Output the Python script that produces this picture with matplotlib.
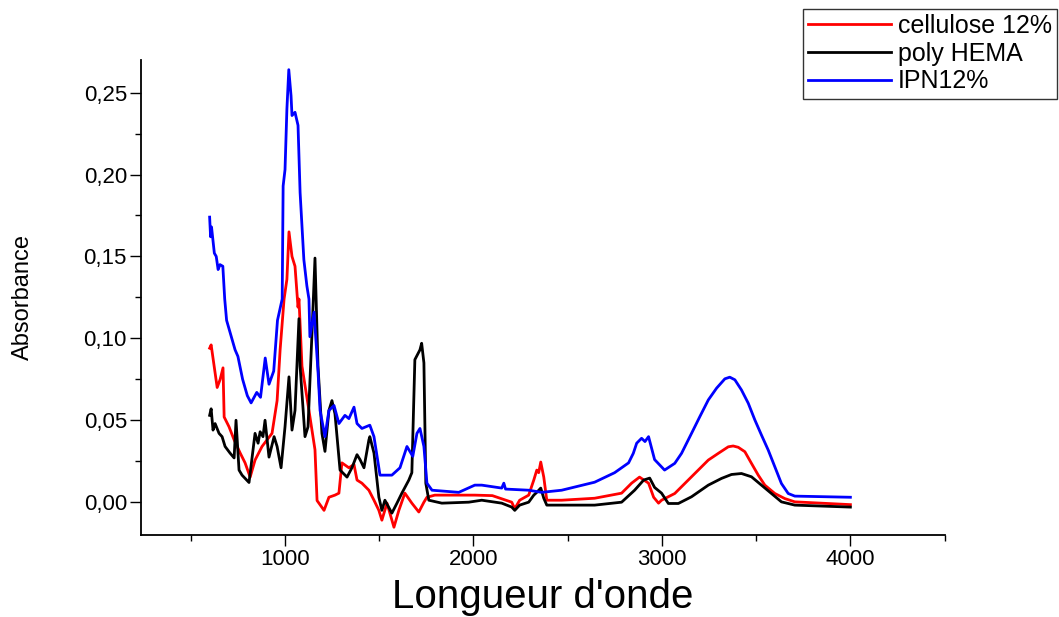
import matplotlib
matplotlib.use("Agg")
import matplotlib.pyplot as plt
from matplotlib.ticker import MultipleLocator, FuncFormatter

plt.rcParams['font.family'] = ['Liberation Sans', 'DejaVu Sans']

# cellulose 12%
x_cell = [600, 608, 624, 640, 656, 671, 677, 703, 730, 762, 788, 815, 841, 878, 931, 958, 974,
          995, 1010, 1021, 1037, 1053, 1069, 1074, 1090, 1127, 1159, 1170, 1207, 1233, 1265, 1286,
          1302, 1339, 1366, 1382, 1408, 1445, 1472, 1498, 1514, 1541, 1578, 1604, 1636, 1673, 1710,
          1737, 1753, 1795, 2007, 2100, 2203, 2219, 2245, 2293, 2320, 2336, 2346, 2357, 2373, 2389,
          2468, 2643, 2786, 2839, 2881, 2929, 2956, 2982, 2998, 3068, 3157, 3246, 3299, 3352, 3378,
          3405, 3440, 3475, 3511, 3546, 3599, 3652, 3705, 4000]
y_cell = [0.094, 0.096, 0.083, 0.070, 0.075, 0.082, 0.052, 0.046, 0.038, 0.030, 0.024, 0.0153,
          0.0257, 0.034, 0.042, 0.062, 0.093, 0.124, 0.136, 0.165, 0.150, 0.144, 0.119, 0.124,
          0.083, 0.056, 0.032, 0.001, -0.005, 0.003, 0.0043, 0.0055, 0.024, 0.021, 0.023, 0.0135,
          0.0116, 0.0073, 0.0012, -0.005, -0.011, -0.0006, -0.0153, -0.005, 0.0055, -0.0006, -0.006,
          0.0, 0.003, 0.0043, 0.0043, 0.004, 0.0, -0.004, 0.0012, 0.0043, 0.0135, 0.0196, 0.018,
          0.0245, 0.0153, 0.0012, 0.0012, 0.0024, 0.0055, 0.0116, 0.0153, 0.0116, 0.003, -0.0006,
          0.0012, 0.0053, 0.0155, 0.0257, 0.0298, 0.0338, 0.0343, 0.0335, 0.0308, 0.0237, 0.0165,
          0.0104, 0.0053, 0.0022, 0.0002, -0.0015]

# poly HEMA
x_hema = [600, 608, 618, 629, 650, 666, 682, 708, 730, 740, 756, 772, 809, 841, 857, 868, 883,
          894, 915, 942, 958, 979, 1000, 1021, 1037, 1053, 1074, 1080, 1106, 1122, 1143, 1159, 1175,
          1196, 1212, 1233, 1249, 1265, 1292, 1329, 1355, 1382, 1398, 1419, 1445, 1450, 1472, 1498,
          1514, 1530, 1567, 1594, 1620, 1657, 1673, 1689, 1716, 1725, 1737, 1747, 1763, 1832, 1975,
          2044, 2150, 2203, 2219, 2245, 2293, 2320, 2336, 2357, 2373, 2389, 2643, 2786, 2855, 2903,
          2935, 2961, 2998, 3034, 3087, 3157, 3246, 3316, 3369, 3422, 3475, 3528, 3581, 3634, 3705,
          4000]
y_hema = [0.053, 0.057, 0.044, 0.048, 0.042, 0.040, 0.034, 0.030, 0.027, 0.050, 0.0196, 0.0165,
          0.012, 0.042, 0.036, 0.043, 0.040, 0.050, 0.0275, 0.040, 0.034, 0.021, 0.046, 0.0765,
          0.044, 0.056, 0.112, 0.083, 0.040, 0.046, 0.103, 0.149, 0.083, 0.042, 0.031, 0.056, 0.062,
          0.054, 0.0196, 0.0153, 0.021, 0.029, 0.026, 0.021, 0.038, 0.040, 0.030, 0.003, -0.005,
          0.0012, -0.0067, -0.0006, 0.0055, 0.0135, 0.018, 0.087, 0.093, 0.097, 0.085, 0.0116,
          0.0012, -0.0006, 0.0, 0.0012, -0.0006, -0.003, -0.005, -0.0018, 0.0, 0.0043, 0.006,
          0.0086, 0.0024, -0.0018, -0.0018, 0.0, 0.0073, 0.0135, 0.0147, 0.009, 0.0055, -0.0008,
          -0.0008, 0.0033, 0.0104, 0.0145, 0.0169, 0.0175, 0.0155, 0.0104, 0.0053, 0.0002, -0.0018,
          -0.003]

# IPN12%
x_ipn = [600, 605, 610, 625, 635, 645, 655, 670, 680, 690, 710, 735, 750, 775, 800, 820, 850,
         870, 895, 915, 940, 960, 985, 990, 1000, 1010, 1020, 1032, 1037, 1053, 1069, 1080, 1100,
         1116, 1127, 1132, 1154, 1175, 1186, 1212, 1233, 1260, 1286, 1318, 1339, 1366, 1382, 1408,
         1450, 1472, 1504, 1567, 1610, 1647, 1678, 1700, 1716, 1737, 1753, 1780, 1922, 2007, 2044,
         2150, 2161, 2170, 2293, 2362, 2468, 2643, 2749, 2823, 2848, 2866, 2892, 2910, 2929, 2961,
         3014, 3068, 3104, 3157, 3201, 3246, 3290, 3334, 3360, 3387, 3422, 3458, 3493, 3528, 3564,
         3599, 3634, 3670, 3705, 4000]
y_ipn = [0.174, 0.162, 0.168, 0.152, 0.150, 0.142, 0.145, 0.144, 0.124, 0.111, 0.103, 0.093,
         0.089, 0.075, 0.065, 0.0606, 0.067, 0.064, 0.088, 0.072, 0.080, 0.111, 0.124, 0.193,
         0.203, 0.240, 0.264, 0.248, 0.236, 0.238, 0.230, 0.189, 0.148, 0.132, 0.124, 0.101,
         0.116, 0.080, 0.056, 0.040, 0.056, 0.059, 0.048, 0.053, 0.051, 0.058, 0.048, 0.045,
         0.047, 0.040, 0.0165, 0.0165, 0.021, 0.034, 0.028, 0.042, 0.045, 0.034, 0.0116, 0.0073,
         0.006, 0.0104, 0.0104, 0.0086, 0.0116, 0.008, 0.0073, 0.006, 0.0073, 0.0122, 0.018,
         0.024, 0.0298, 0.036, 0.039, 0.037, 0.040, 0.026, 0.0196, 0.0237, 0.0298, 0.042, 0.0522,
         0.0624, 0.0696, 0.0753, 0.0763, 0.0747, 0.0685, 0.0604, 0.0502, 0.041, 0.0318, 0.0216,
         0.0114, 0.0053, 0.0037, 0.003]

fig = plt.figure(figsize=(10.59, 6.17), dpi=100)
ax = fig.add_axes([0.133, 0.133, 0.759, 0.770])

ax.plot(x_cell, y_cell, color='red', lw=2.0, label='cellulose 12%')
ax.plot(x_hema, y_hema, color='black', lw=2.0, label='poly HEMA')
ax.plot(x_ipn, y_ipn, color='blue', lw=2.0, label='IPN12%')

ax.set_xlim(235, 4500)
ax.set_ylim(-0.02, 0.27)

for s in ['top', 'right']:
    ax.spines[s].set_visible(False)
for s in ['left', 'bottom']:
    ax.spines[s].set_linewidth(1.3)

ax.xaxis.set_major_locator(MultipleLocator(1000))
ax.xaxis.set_minor_locator(MultipleLocator(500))
ax.yaxis.set_major_locator(MultipleLocator(0.05))
ax.yaxis.set_minor_locator(MultipleLocator(0.025))
ax.yaxis.set_major_formatter(FuncFormatter(lambda v, p: f"{v:.2f}".replace('.', ',').replace('-0,00', '0,00')))
ax.set_xticks([1000, 2000, 3000, 4000])

ax.tick_params(which='major', direction='out', length=8, width=1, labelsize=16, pad=2)
ax.tick_params(which='minor', direction='out', length=4, width=1)

ax.set_xlabel("Longueur d'onde", fontsize=29, labelpad=6)
ax.set_ylabel("Absorbance", fontsize=17, labelpad=36)

leg = fig.legend(loc='upper right', bbox_to_anchor=(1057 / 1059, 1 - 9 / 617), fontsize=18,
                 frameon=True, fancybox=False, handlelength=3.3, handletextpad=0.3,
                 labelspacing=0.15, borderpad=0.2, borderaxespad=0)
leg.get_frame().set_edgecolor('black')
leg.get_frame().set_linewidth(1.0)

fig.savefig("out.png", dpi=100)
